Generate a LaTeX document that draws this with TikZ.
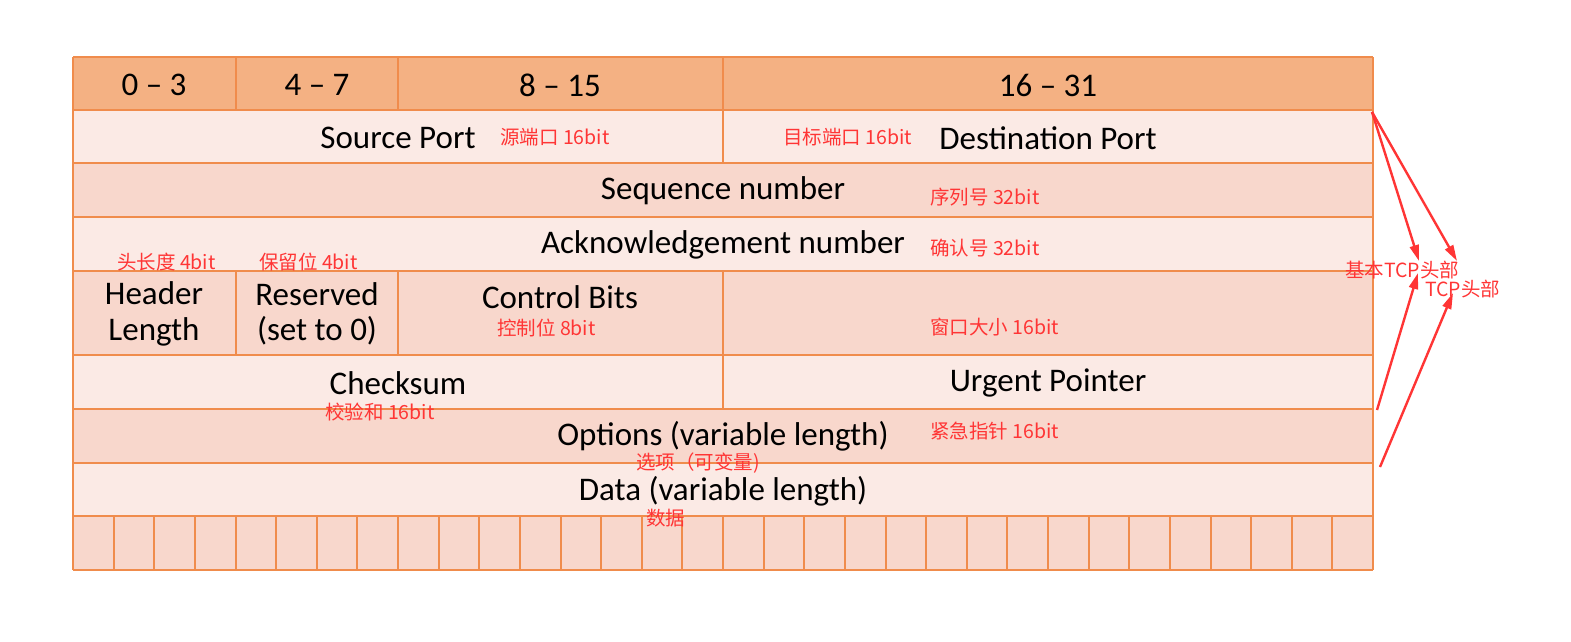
\documentclass[tikz,border=0pt]{standalone}
\usepackage{fontspec}
\setmainfont{Carlito}
\newfontfamily\cjk{Noto Sans CJK SC}
\usetikzlibrary{arrows.meta}

\definecolor{headfill}{HTML}{F4B183}
\definecolor{lightrow}{HTML}{FBEAE5}
\definecolor{darkrow}{HTML}{F8D7CC}
\definecolor{gridline}{HTML}{F08C4C}
\definecolor{note}{HTML}{FF3535}

\tikzset{
  field/.style={font=\fontsize{33}{35.5}\selectfont, text=black, align=center, inner sep=0pt},
  note/.style={font=\cjk\fontsize{19.5}{22}\selectfont, text=note, anchor=west, inner sep=0pt},
  grid/.style={draw=gridline, line width=2pt},
  pointer/.style={draw=note, line width=2.4pt, -{Triangle[length=16pt,width=9pt]}},
}

\begin{document}
\begin{tikzpicture}[x=1pt,y=-1pt]
\useasboundingbox (0,0) rectangle (1571,641);

% row backgrounds
\fill[headfill] (73,57) rectangle (1373,110);
\fill[lightrow] (73,110) rectangle (1373,163);
\fill[darkrow]  (73,163) rectangle (1373,217);
\fill[lightrow] (73,217) rectangle (1373,271);
\fill[darkrow]  (73,271) rectangle (1373,355);
\fill[lightrow] (73,355) rectangle (1373,409);
\fill[darkrow]  (73,409) rectangle (1373,463);
\fill[lightrow] (73,463) rectangle (1373,516);
\fill[darkrow]  (73,516) rectangle (1373,570);

% horizontal rules
\foreach \y in {57,110,163,217,271,355,409,463,516,570}
  \draw[grid] (73,\y) -- (1373,\y);
% outer vertical edges
\draw[grid] (73,57) -- (73,570);
\draw[grid] (1373,57) -- (1373,570);
% column splits
\draw[grid] (236,57) -- (236,110);
\draw[grid] (398,57) -- (398,110);
\draw[grid] (723,57) -- (723,163);
\draw[grid] (236,271) -- (236,355);
\draw[grid] (398,271) -- (398,355);
\draw[grid] (723,271) -- (723,409);
% one cell per bit in the bottom row
\foreach \i in {1,...,31}
  \draw[grid] ({73+\i*40.625},516) -- ({73+\i*40.625},570);

% bit ranges
\node[field] (b0) at (154,85) {0 -- 3};
\node[field] (b4) at (317,85) {4 -- 7};
\node[field] (b8) at (560,85) {8 -- 15};
\node[field] (b16) at (1048,85) {16 -- 31};

% field names
\node[field] (sport) at (398,138) {Source Port};
\node[field] (dport) at (1048,138) {Destination Port};
\node[field] (seq) at (723,191) {Sequence number};
\node[field] (ack) at (723,245) {Acknowledgement number};
\node[field] (hlen) at (154,314) {Header\\Length};
\node[field] (resv) at (317,314) {Reserved\\(set to 0)};
\node[field] (ctrl) at (560,297) {Control Bits};
\node[field] (csum) at (398,383) {Checksum};
\node[field] (urg) at (1048,383) {Urgent Pointer};
\node[field] (opts) at (723,436) {Options (variable length)};
\node[field] (data) at (723,491) {Data (variable length)};

% annotations
\node[note] (n1) at (500,137) {源端口 16bit};
\node[note] (n2) at (783,137) {目标端口 16bit};
\node[note] (n3) at (930,197) {序列号 32bit};
\node[note] (n4) at (930,248) {确认号 32bit};
\node[note] (n5) at (117,262) {头长度 4bit};
\node[note] (n6) at (259,262) {保留位 4bit};
\node[note] (n7) at (497,328) {控制位 8bit};
\node[note] (n8) at (930,327) {窗口大小 16bit};
\node[note] (n9) at (325,412) {校验和 16bit};
\node[note] (n10) at (930,431) {紧急指针 16bit};
\node[note] (n11) at (636,463) {选项（可变量)};
\node[note] (n12) at (646,518) {数据};
\node[note] (basic) at (1345,270) {基本TCP头部};
\node[note] (full) at (1425,289) {TCP头部};

% arrows toward the header labels
\coordinate (top) at (1372,112);
\coordinate (basicend) at (1377,410);
\coordinate (fullend) at (1380,467);
\coordinate (basicin) at (1419,261);
\coordinate (fullin) at (1457,261);
\coordinate (basicup) at (1418,273);
\coordinate (fullup) at (1453,293);
\draw[pointer] (top) -- (basicin);
\draw[pointer] (top) -- (fullin);
\draw[pointer] (basicend) -- (basicup);
\draw[pointer] (fullend) -- (fullup);
\end{tikzpicture}
\end{document}
